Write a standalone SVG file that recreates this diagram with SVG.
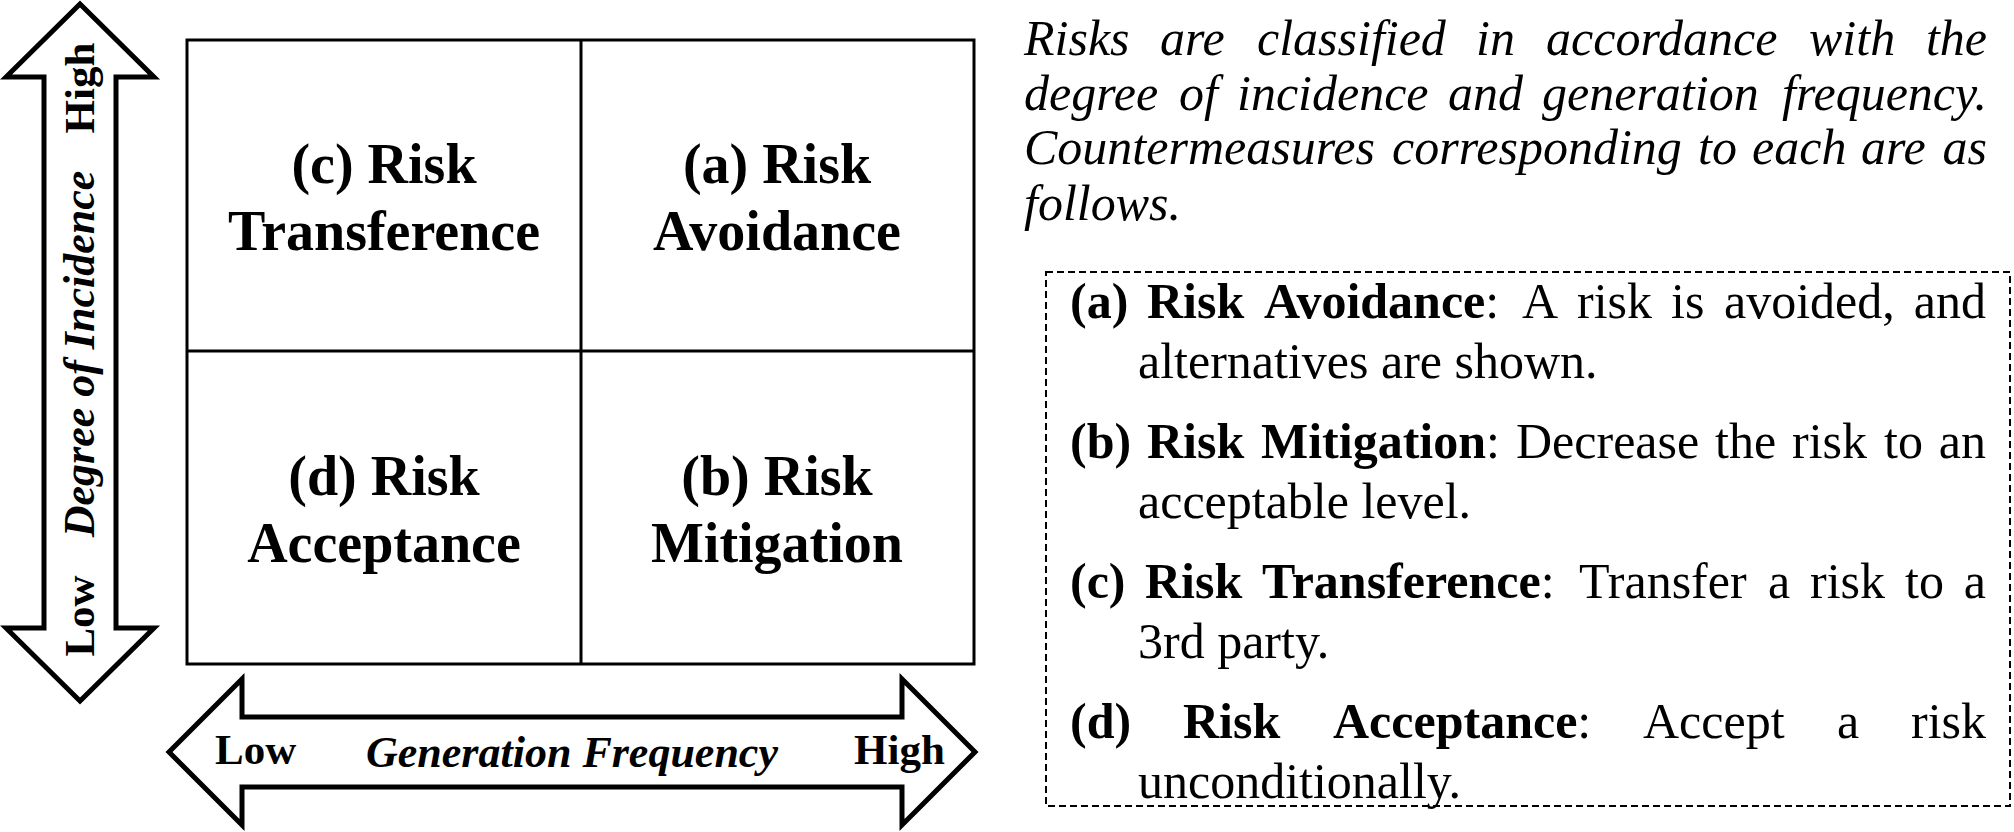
<svg xmlns="http://www.w3.org/2000/svg" width="2014" height="832" viewBox="0 0 2014 832">
<style>
text { font-family: "Liberation Serif", "Times New Roman", serif; fill: #000; }
.quad { font-size: 56px; font-weight: bold; text-anchor: middle; }
.axis { font-size: 43px; font-weight: bold; }
.axisT { font-size: 44px; font-weight: bold; font-style: italic; }
.para { font-size: 50px; font-style: italic; }
.item { font-size: 50px; }
.b { font-weight: bold; }
.grid { fill: #fff; stroke: #000; stroke-width: 3; }
.gline { stroke: #000; stroke-width: 3; }
.arrow { fill: #fff; stroke: #000; stroke-width: 5; stroke-linejoin: miter; }
.dash { fill: none; stroke: #000; stroke-width: 2; stroke-dasharray: 7 4; }
</style>
<rect width="2014" height="832" fill="#fff"/>
<g id="axes">
  <polygon id="axis-vertical" class="arrow" points="80,4 154,77 116,77 116,628 154,628 80,701 6,628 44,628 44,77 6,77"/>
  <polygon id="axis-horizontal" class="arrow" points="169,752 242,679 242,717 902,717 902,679 975,752 902,825 902,787 242,787 242,825"/>
</g>
<g id="axis-labels">
  <text class="axis" text-anchor="middle" transform="translate(94,88) rotate(-90)">High</text>
  <text class="axisT" text-anchor="middle" transform="translate(94,354) rotate(-90)">Degree of Incidence</text>
  <text class="axis" text-anchor="middle" transform="translate(94,616) rotate(-90)">Low</text>
  <text class="axis" x="215" y="764">Low</text>
  <text class="axisT" text-anchor="middle" x="572" y="767">Generation Frequency</text>
  <text class="axis" x="854" y="764">High</text>
</g>
<g id="matrix">
  <rect class="grid" x="187" y="40" width="787" height="624"/>
  <line class="gline" x1="581" y1="40" x2="581" y2="664"/>
  <line class="gline" x1="187" y1="351" x2="974" y2="351"/>
</g>
<g id="node-c">
  <text class="quad" x="384" y="183">(c) Risk</text>
  <text class="quad" x="384" y="250">Transference</text>
</g>
<g id="node-a">
  <text class="quad" x="777" y="183">(a) Risk</text>
  <text class="quad" x="777" y="250">Avoidance</text>
</g>
<g id="node-d">
  <text class="quad" x="384" y="495">(d) Risk</text>
  <text class="quad" x="384" y="562">Acceptance</text>
</g>
<g id="node-b">
  <text class="quad" x="777" y="495">(b) Risk</text>
  <text class="quad" x="777" y="562">Mitigation</text>
</g>
<g id="description">
  <text class="para" y="55"><tspan x="1024">Risks</tspan><tspan x="1160">are</tspan><tspan x="1257">classified</tspan><tspan x="1476">in</tspan><tspan x="1546">accordance</tspan><tspan x="1809">with</tspan><tspan x="1987" text-anchor="end">the</tspan></text>
  <text class="para" y="110"><tspan x="1024">degree</tspan><tspan x="1179">of</tspan><tspan x="1237">incidence</tspan><tspan x="1448">and</tspan><tspan x="1542">generation</tspan><tspan x="1987" text-anchor="end">frequency.</tspan></text>
  <text class="para" y="164"><tspan x="1024">Countermeasures</tspan><tspan x="1392">corresponding</tspan><tspan x="1698">to</tspan><tspan x="1752">each</tspan><tspan x="1861">are</tspan><tspan x="1987" text-anchor="end">as</tspan></text>
  <text class="para" x="1024" y="220">follows.</text>
</g>
<g id="legend">
  <rect class="dash" x="1046" y="272" width="964" height="534"/>
  <text class="item" y="318"><tspan x="1070" class="b">(a)</tspan><tspan x="1147" class="b">Risk</tspan><tspan x="1264" class="b">Avoidance</tspan><tspan>:</tspan><tspan x="1522">A</tspan><tspan x="1577">risk</tspan><tspan x="1671">is</tspan><tspan x="1724">avoided,</tspan><tspan x="1986" text-anchor="end">and</tspan></text>
  <text class="item" x="1138" y="378">alternatives are shown.</text>
  <text class="item" y="458"><tspan x="1070" class="b">(b)</tspan><tspan x="1147" class="b">Risk</tspan><tspan x="1261" class="b">Mitigation</tspan><tspan>:</tspan><tspan x="1516">Decrease</tspan><tspan x="1715">the</tspan><tspan x="1792">risk</tspan><tspan x="1884">to</tspan><tspan x="1986" text-anchor="end">an</tspan></text>
  <text class="item" x="1138" y="518">acceptable level.</text>
  <text class="item" y="598"><tspan x="1070" class="b">(c)</tspan><tspan x="1145" class="b">Risk</tspan><tspan x="1262" class="b">Transference</tspan><tspan>:</tspan><tspan x="1579">Transfer</tspan><tspan x="1768">a</tspan><tspan x="1810">risk</tspan><tspan x="1905">to</tspan><tspan x="1986" text-anchor="end">a</tspan></text>
  <text class="item" x="1138" y="658">3rd party.</text>
  <text class="item" y="738"><tspan x="1070" class="b">(d)</tspan><tspan x="1183" class="b">Risk</tspan><tspan x="1333" class="b">Acceptance</tspan><tspan>:</tspan><tspan x="1643">Accept</tspan><tspan x="1837">a</tspan><tspan x="1986" text-anchor="end">risk</tspan></text>
  <text class="item" x="1138" y="798">unconditionally.</text>
</g>
</svg>
